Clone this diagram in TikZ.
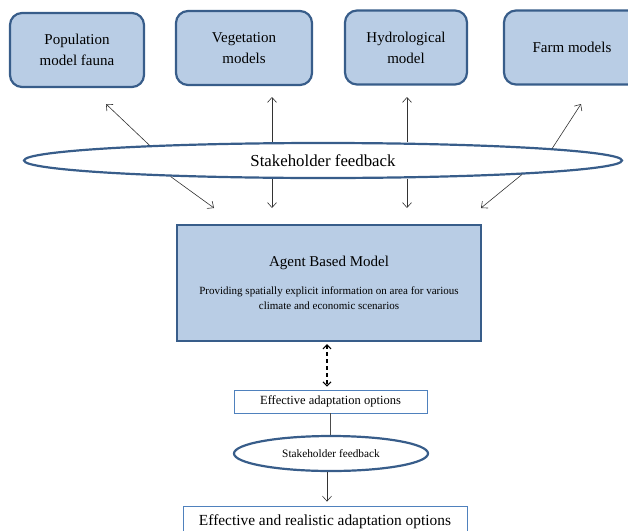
\documentclass[tikz,border=0pt]{standalone}
\usepackage{fontspec}
\setmainfont{Liberation Serif}
\usetikzlibrary{arrows.meta, shapes.geometric}
\definecolor{boxfill}{HTML}{B9CDE5}
\definecolor{boxline}{HTML}{385D8A}
\definecolor{thinline}{HTML}{4F81BD}

\begin{document}
\begin{tikzpicture}[x=1pt, y=-1pt,
  model/.style={draw=boxline, line width=2.2pt, fill=boxfill, rounded corners=12pt, align=center, font=\fontsize{15}{21}\selectfont, minimum height=74pt},
  feedback/.style={draw=boxline, line width=2.2pt, ellipse, fill=white, inner sep=0pt},
  option/.style={draw=thinline, line width=0.8pt, fill=white, inner sep=0pt},
  link/.style={-{Straight Barb[length=5pt, width=9pt]}, line width=0.6pt, black!80}]

  \useasboundingbox (0,0) rectangle (628,530);
  \clip (0,0) rectangle (628,530);

  \node[model, minimum width=134pt] (pop) at (77,50) {Population\\model fauna};
  \node[model, minimum width=136pt] (veg) at (244,48) {Vegetation\\models};
  \node[model, minimum width=122pt] (hyd) at (406,47.5) {Hydrological\\model};
  \node[model, minimum width=136pt] (farm) at (572,47.5) {Farm models};

  \node[feedback, minimum width=598pt, minimum height=35pt, font=\fontsize{16.8}{20}\selectfont] (fb) at (323,160.5) {Stakeholder feedback};

  \node[draw=boxline, line width=2.2pt, fill=boxfill, minimum width=304pt, minimum height=116pt, align=center, font=\fontsize{11}{15}\selectfont] (abm) at (329,283)
    {{\fontsize{15}{18}\selectfont Agent Based Model}\\[13pt]Providing spatially explicit information on area for various\\climate and economic scenarios};

  \node[option, minimum width=193pt, minimum height=23pt, font=\fontsize{12.5}{15}\selectfont] (eff) at (330.5,401.5) {Effective adaptation options};
  \node[feedback, minimum width=194pt, minimum height=35pt, font=\fontsize{11.3}{14}\selectfont] (fb2) at (331,453.5) {Stakeholder feedback};
  \node[option, minimum width=284pt, minimum height=32pt, font=\fontsize{15.4}{18}\selectfont] (real) at (325,522) {Effective and realistic adaptation options};

  \coordinate (t1) at (106,104);
  \coordinate (t2) at (272,97);
  \coordinate (t3) at (407,97);
  \coordinate (t4) at (581,104);
  \coordinate (b1) at (214,208);
  \coordinate (b2) at (272,208);
  \coordinate (b3) at (407,208);
  \coordinate (b4) at (481,208);

  \draw[link] (fb.175) -- (t1);
  \draw[link] (fb.north -| t2) -- (t2);
  \draw[link] (fb.north -| t3) -- (t3);
  \draw[link] (fb.3) -- (t4);
  \draw[link] (fb.186) -- (b1);
  \draw[link] (fb.south -| b2) -- (b2);
  \draw[link] (fb.south -| b3) -- (b3);
  \draw[link] (fb.356) -- (b4);

  \draw[{Straight Barb[length=4pt, width=8pt]}-{Straight Barb[length=4pt, width=8pt]}, line width=1.1pt, dash pattern=on 4pt off 3pt, shorten <=2pt, shorten >=3pt] (abm.south -| 327,0) -- (eff.north -| 327,0);
  \draw[line width=0.6pt, black!70] (eff.south -| 330,0) -- (fb2.north -| 330,0);
  \draw[link, shorten >=4pt] (fb2.south -| 327,0) -- (real.north -| 327,0);

\end{tikzpicture}
\end{document}
